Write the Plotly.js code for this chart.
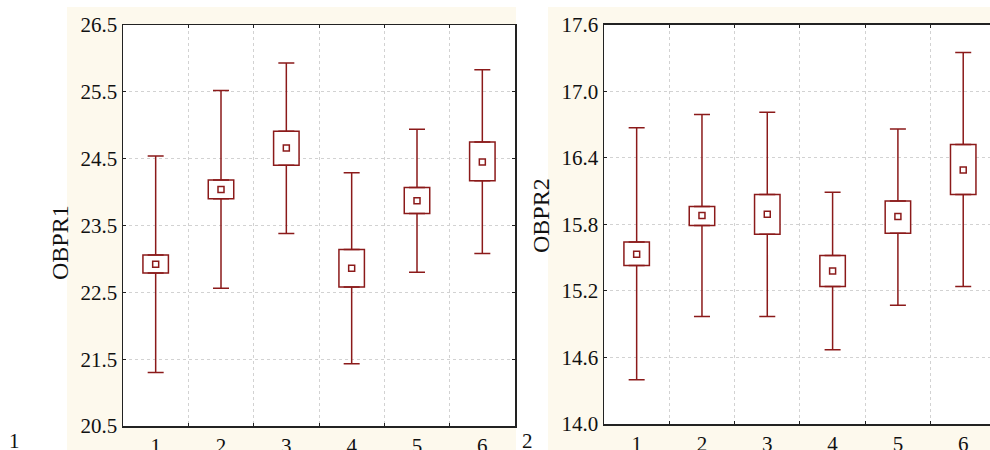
<!DOCTYPE html>
<html>
<head>
<meta charset="utf-8">
<script src="https://cdn.plot.ly/plotly-3.0.1.min.js"></script>
<style>html,body{margin:0;padding:0;background:#fff;}#chart{width:990px;height:450px;}</style>
</head>
<body>
<div id="chart"></div>
<script>
// Categories
const groups = ["1", "2", "3", "4", "5", "6"];
// OBPR1 (left panel)
const obpr1Mean   = [22.92, 24.04, 24.66, 22.86, 23.87, 24.45];
const obpr1BoxLo  = [22.79, 23.90, 24.40, 22.58, 23.68, 24.17];
const obpr1BoxHi  = [23.06, 24.18, 24.91, 23.14, 24.07, 24.75];
const obpr1WhLo   = [21.30, 22.56, 23.38, 21.43, 22.80, 23.08];
const obpr1WhHi   = [24.54, 25.52, 25.93, 24.29, 24.94, 25.83];
// OBPR2 (right panel)
const obpr2Mean   = [15.53, 15.88, 15.89, 15.38, 15.87, 16.29];
const obpr2BoxLo  = [15.43, 15.79, 15.71, 15.24, 15.72, 16.07];
const obpr2BoxHi  = [15.64, 15.96, 16.07, 15.52, 16.01, 16.52];
const obpr2WhLo   = [14.40, 14.97, 14.97, 14.67, 15.07, 15.24];
const obpr2WhHi   = [16.67, 16.79, 16.81, 16.09, 16.66, 17.35];
// Axis ticks
const yTicks1 = [20.5, 21.5, 22.5, 23.5, 24.5, 25.5, 26.5];
const yTicks2 = [14.0, 14.6, 15.2, 15.8, 16.4, 17.0, 17.6];

const RED = "#8b1a1a";
const W = 990, H = 450;
const px = v => v / W;
const py = v => 1 - v / H;

function panel(mean, lo, hi, wlo, whi, xa, ya) {
  const out = [];
  out.push({
    type: "bar", x: groups, base: lo, y: hi.map((h, i) => h - lo[i]),
    width: 0.39, xaxis: xa, yaxis: ya,
    marker: {color: "#ffffff", line: {color: RED, width: 1.5}},
    hoverinfo: "skip", showlegend: false
  });
  out.push({
    type: "scatter", mode: "markers", x: groups, y: hi, xaxis: xa, yaxis: ya,
    marker: {opacity: 0, size: 1},
    error_y: {type: "data", symmetric: false, array: whi.map((v, i) => v - hi[i]),
              arrayminus: hi.map(() => 0), color: RED, thickness: 1.5, width: 8},
    hoverinfo: "skip", showlegend: false
  });
  out.push({
    type: "scatter", mode: "markers", x: groups, y: lo, xaxis: xa, yaxis: ya,
    marker: {opacity: 0, size: 1},
    error_y: {type: "data", symmetric: false, array: lo.map(() => 0),
              arrayminus: lo.map((v, i) => v - wlo[i]), color: RED, thickness: 1.5, width: 8},
    hoverinfo: "skip", showlegend: false
  });
  out.push({
    type: "scatter", mode: "markers", x: groups, y: mean, xaxis: xa, yaxis: ya,
    marker: {symbol: "square-open", size: 6, color: RED, line: {width: 1.5, color: RED}},
    hoverinfo: "skip", showlegend: false
  });
  return out;
}

const data = [].concat(
  panel(obpr1Mean, obpr1BoxLo, obpr1BoxHi, obpr1WhLo, obpr1WhHi, "x", "y"),
  panel(obpr2Mean, obpr2BoxLo, obpr2BoxHi, obpr2WhLo, obpr2WhHi, "x2", "y2")
);

const SERIF = "Liberation Serif, Times New Roman, serif";
const tickFont = {family: SERIF, size: 21, color: "#111"};
const gridStyle = {showgrid: true, gridcolor: "#d2d2d2", griddash: "dot", gridwidth: 1};

function xAxis(domain, range, anchor, mirror) {
  return Object.assign({
    domain: domain, range: range, anchor: anchor, type: "category",
    categoryorder: "array", categoryarray: groups,
    tickson: "boundaries", ticks: "inside", ticklen: 3, tickcolor: "#222",
    showline: true, linecolor: "#222", linewidth: 1.5, mirror: mirror,
    tickfont: tickFont, zeroline: false, automargin: false, fixedrange: true
  }, gridStyle);
}
function yAxis(domain, range, ticks, anchor, mirror) {
  return Object.assign({
    domain: domain, range: range, anchor: anchor,
    tickmode: "array", tickvals: ticks, ticktext: ticks.map(v => v.toFixed(1)),
    ticks: "inside", ticklen: 3, tickcolor: "#222",
    showline: true, linecolor: "#222", linewidth: 1.5, mirror: mirror,
    tickfont: tickFont, zeroline: false, automargin: false, fixedrange: true
  }, gridStyle);
}

const cream = "#fdf9ed";
const layout = {
  width: W, height: H,
  margin: {l: 0, r: 0, t: 0, b: 0, pad: 0},
  paper_bgcolor: "#ffffff", plot_bgcolor: "#ffffff",
  showlegend: false, barmode: "overlay",
  xaxis: xAxis([px(123), px(515)], [-0.5, 5.5], "y", "ticks"),
  yaxis: yAxis([py(426), py(25)], [20.5, 26.5], yTicks1, "x", "ticks"),
  xaxis2: xAxis([px(604), 1], [-0.5, 5.41], "y2", "ticks"),
  yaxis2: yAxis([py(424), py(24.7)], [14.0, 17.6], yTicks2, "x2", false),
  shapes: [
    {type: "rect", xref: "paper", yref: "paper", x0: px(67), x1: px(516), y0: 0, y1: py(7),
     fillcolor: cream, line: {width: 0}, layer: "below"},
    {type: "rect", xref: "paper", yref: "paper", x0: px(548), x1: 1, y0: 0, y1: py(7),
     fillcolor: cream, line: {width: 0}, layer: "below"},
    {type: "rect", xref: "paper", yref: "paper", x0: px(123), x1: px(515), y0: py(426), y1: py(25),
     fillcolor: "#ffffff", line: {width: 0}, layer: "below"},
    {type: "rect", xref: "paper", yref: "paper", x0: px(604), x1: 1, y0: py(424), y1: py(24.7),
     fillcolor: "#ffffff", line: {width: 0}, layer: "below"}
  ],
  annotations: [
    {text: "OBPR1", xref: "paper", yref: "paper", x: px(60), y: py(243), textangle: -90,
     showarrow: false, xanchor: "center", yanchor: "middle",
     font: {family: SERIF, size: 24, color: "#111"}},
    {text: "OBPR2", xref: "paper", yref: "paper", x: px(541), y: py(216), textangle: -90,
     showarrow: false, xanchor: "center", yanchor: "middle",
     font: {family: SERIF, size: 24, color: "#111"}},
    {text: "1", xref: "paper", yref: "paper", x: px(14), y: py(441), showarrow: false,
     xanchor: "center", yanchor: "middle", font: tickFont},
    {text: "2", xref: "paper", yref: "paper", x: px(527), y: py(441), showarrow: false,
     xanchor: "center", yanchor: "middle", font: tickFont}
  ]
};

Plotly.newPlot("chart", data, layout, {displayModeBar: false, staticPlot: true});
</script>
</body>
</html>
